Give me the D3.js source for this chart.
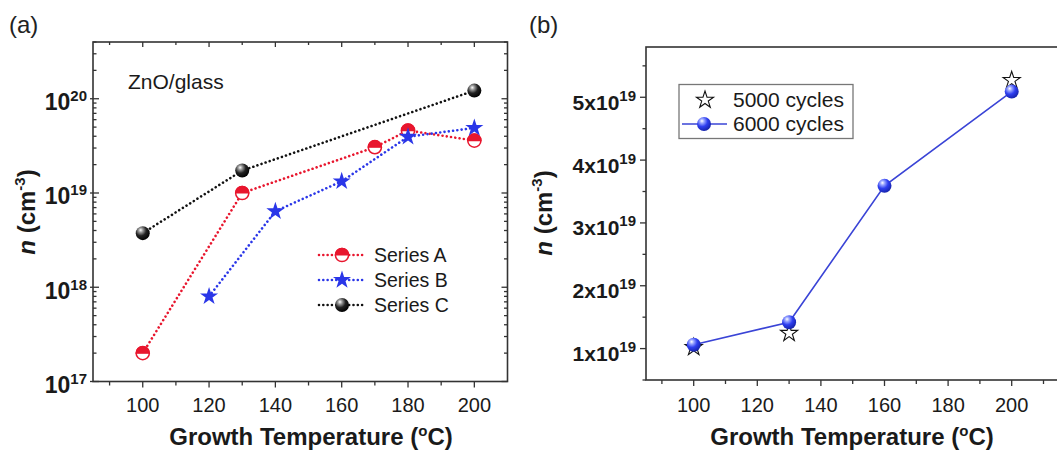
<!DOCTYPE html>
<html><head><meta charset="utf-8">
<script src="https://cdn.jsdelivr.net/npm/d3@7"></script>
<style>
body{margin:0;background:#fff}
svg{display:block;font-family:"Liberation Sans",Arial,sans-serif}
</style></head><body>
<svg id="chart" width="1057" height="452"></svg>
<script>
// ---- data ----
const seriesATemps  = [100, 130, 170, 180, 200];
const seriesAValues = [2.0e17, 1.0e19, 3.06e19, 4.6e19, 3.6e19];
const seriesBTemps  = [120, 140, 160, 180, 200];
const seriesBValues = [8.0e17, 6.4e18, 1.33e19, 3.95e19, 4.9e19];
const seriesCTemps  = [100, 130, 200];
const seriesCValues = [3.75e18, 1.73e19, 1.22e20];
const seriesNames   = ["Series A", "Series B", "Series C"];

const cycles5000Temps  = [100, 130, 200];
const cycles5000Values = [1.02e19, 1.245e19, 5.27e19];
const cycles6000Temps  = [100, 130, 160, 200];
const cycles6000Values = [1.06e19, 1.42e19, 3.59e19, 5.09e19];
const cycleNames = ["5000 cycles", "6000 cycles"];

const xTickValues = [100, 120, 140, 160, 180, 200];
const xMinorValues = [90, 110, 130, 150, 170, 190, 210];
const yExpTicksA = [17, 18, 19, 20];
const yMantTicksB = [1, 2, 3, 4, 5];
const yMinorB = [0.5, 1.5, 2.5, 3.5, 4.5, 5.5];

const RED = "#e8162e", BLUE = "#2a36e8", LBLUE = "#3a44d6";
const zip = (xs, ys) => xs.map((x, i) => ({x, y: ys[i]}));

const svg = d3.select("#chart");
const defs = svg.append("defs");
function sphereGrad(id, stops) {
  const g = defs.append("radialGradient").attr("id", id)
    .attr("cx", "38%").attr("cy", "32%").attr("r", "70%")
    .attr("fx", "35%").attr("fy", "28%");
  stops.forEach(([o, c]) => g.append("stop").attr("offset", o).attr("stop-color", c));
}
sphereGrad("gBlack", [[0, "#ffffff"], [0.22, "#9a9a9a"], [0.55, "#222"], [1, "#000"]]);
sphereGrad("gBlue", [[0, "#ffffff"], [0.22, "#9aa6ff"], [0.55, "#2f3ff0"], [1, "#1522a8"]]);

const starPath = R => d3.symbol(d3.symbolStar).size(R * R / 0.8908130915292852)();

// tick helper: draws ticks along an axis using a scale
function ticks(g, scale, values, orient, pos, inLen, outLen) {
  values.forEach(v => {
    const p = scale(v);
    const l = g.append("line").attr("stroke", "#333").attr("stroke-width", 1.3);
    if (orient === "left")   l.attr("x1", pos - outLen).attr("x2", pos + inLen).attr("y1", p).attr("y2", p);
    if (orient === "right")  l.attr("x1", pos + outLen).attr("x2", pos - inLen).attr("y1", p).attr("y2", p);
    if (orient === "bottom") l.attr("y1", pos + outLen).attr("y2", pos - inLen).attr("x1", p).attr("x2", p);
    if (orient === "top")    l.attr("y1", pos - outLen).attr("y2", pos + inLen).attr("x1", p).attr("x2", p);
  });
}

function xTitle(g, cx, y) {
  const t = g.append("text").attr("x", cx).attr("y", y).attr("text-anchor", "middle")
    .attr("font-size", 24).attr("font-weight", "bold").attr("fill", "#1a1a1a");
  t.append("tspan").text("Growth Temperature (");
  t.append("tspan").attr("font-size", 15).attr("dy", -9).text("o");
  t.append("tspan").attr("dy", 9).text("C)");
}
function yTitle(g, x, cy) {
  const t = g.append("text").attr("transform", `translate(${x},${cy}) rotate(-90)`)
    .attr("text-anchor", "middle").attr("font-size", 24).attr("font-weight", "bold").attr("fill", "#1a1a1a");
  t.append("tspan").attr("font-style", "italic").text("n");
  t.append("tspan").text(" (cm");
  t.append("tspan").attr("font-size", 15).attr("dy", -10).text("-3");
  t.append("tspan").attr("dy", 10).text(")");
}

// ================= panel (a) =================
const A = svg.append("g");
const xa = d3.scaleLinear().domain([85, 210]).range([93, 507.5]);
const ya = d3.scaleLog().domain([1e17, 4e20]).range([381.5, 42]);
const [aL, aR] = xa.range(), [aB, aT] = ya.range();

A.append("text").attr("x", 9).attr("y", 33).attr("font-size", 24).attr("fill", "#222").text("(a)");

const minorLog = [];
yExpTicksA.forEach(e => { for (let k = 2; k <= 9; k++) { const v = k * Math.pow(10, e); if (v <= 4e20) minorLog.push(v); } });
const majorLog = yExpTicksA.map(e => Math.pow(10, e));

ticks(A, ya, majorLog, "left", aL, 6, 3);
ticks(A, ya, minorLog, "left", aL, 3.5, 0);
ticks(A, ya, majorLog, "right", aR, 6, 0);
ticks(A, ya, minorLog, "right", aR, 3.5, 0);
ticks(A, xa, xTickValues, "bottom", aB, 0, 6);
ticks(A, xa, xMinorValues.filter(v => v < 210), "bottom", aB, 0, 4);
ticks(A, xa, xTickValues, "top", aT, 5, 0);
ticks(A, xa, xMinorValues.filter(v => v < 210), "top", aT, 3, 0);

A.append("rect").attr("x", aL).attr("y", aT).attr("width", aR - aL).attr("height", aB - aT)
  .attr("fill", "none").attr("stroke", "#333").attr("stroke-width", 1.6);

// y labels 10^n
yExpTicksA.forEach(e => {
  const t = A.append("text").attr("x", 87).attr("y", ya(Math.pow(10, e)) + 11.5).attr("text-anchor", "end")
    .attr("font-weight", "bold").attr("font-size", 23).attr("fill", "#1a1a1a");
  t.append("tspan").text("10");
  t.append("tspan").attr("font-size", 15).attr("dy", -9).text(e);
});
xTickValues.forEach(v => {
  A.append("text").attr("x", xa(v)).attr("y", 412).attr("text-anchor", "middle")
    .attr("font-size", 20).attr("fill", "#1a1a1a").text(v);
});
xTitle(A, 311, 445);
yTitle(A, 35, 212);

A.append("text").attr("x", 128).attr("y", 89).attr("font-size", 21).attr("fill", "#1a1a1a").text("ZnO/glass");

const lineA = d3.line().x(d => xa(d.x)).y(d => ya(d.y));
const dotted = (g, data, color) => g.append("path").datum(data).attr("d", lineA)
  .attr("fill", "none").attr("stroke", color).attr("stroke-width", 2.6)
  .attr("stroke-linecap", "round").attr("stroke-dasharray", "0.01 4.3");

const dA = zip(seriesATemps, seriesAValues), dB = zip(seriesBTemps, seriesBValues), dC = zip(seriesCTemps, seriesCValues);
dotted(A, dC, "#111");
dotted(A, dA, RED);
dotted(A, dB, BLUE);

function halfCircle(g, x, y) {
  const m = g.append("g").attr("transform", `translate(${x},${y})`);
  m.append("circle").attr("r", 6.6).attr("fill", "#fff").attr("stroke", RED).attr("stroke-width", 1.5);
  m.append("path").attr("d", "M-6.6,0A6.6,6.6 0 0 1 6.6,0Z").attr("fill", RED).attr("stroke", RED).attr("stroke-width", 1.2);
}
function blueStar(g, x, y) {
  g.append("path").attr("transform", `translate(${x},${y})`).attr("d", starPath(9.5)).attr("fill", BLUE);
}
function sphere(g, x, y, grad, r) {
  g.append("circle").attr("cx", x).attr("cy", y).attr("r", r).attr("fill", `url(#${grad})`);
}
dA.forEach(d => halfCircle(A, xa(d.x), ya(d.y)));
dB.forEach(d => blueStar(A, xa(d.x), ya(d.y)));
dC.forEach(d => sphere(A, xa(d.x), ya(d.y), "gBlack", 7));

// legend (a)
const legRowsA = [255, 280, 305];
const legColors = [RED, BLUE, "#111"];
seriesNames.forEach((name, i) => {
  const y = legRowsA[i];
  A.append("line").attr("x1", 319).attr("x2", 363).attr("y1", y).attr("y2", y)
    .attr("stroke", legColors[i]).attr("stroke-width", 2.6).attr("stroke-linecap", "round").attr("stroke-dasharray", "0.01 4.3");
  if (i === 0) halfCircle(A, 342, y);
  if (i === 1) blueStar(A, 342, y);
  if (i === 2) sphere(A, 342, y, "gBlack", 7);
  A.append("text").attr("x", 374).attr("y", y + 7).attr("font-size", 19.5).attr("fill", "#1a1a1a").text(name);
});

// ================= panel (b) =================
const B = svg.append("g");
const xb = d3.scaleLinear().domain([85, 215]).range([646, 1059.4]);
const yb = d3.scaleLinear().domain([0.5e19, 5.8e19]).range([380, 47]);
const [bL, bR] = xb.range(), [bB, bT] = yb.range();

B.append("text").attr("x", 529).attr("y", 33).attr("font-size", 24).attr("fill", "#222").text("(b)");

ticks(B, yb, yMantTicksB.map(m => m * 1e19), "left", bL, 0, 6);
ticks(B, yb, yMinorB.map(m => m * 1e19), "left", bL, 0, 3.5);
ticks(B, xb, xTickValues, "bottom", bB, 0, 6);
ticks(B, xb, xMinorValues, "bottom", bB, 0, 4);
B.append("rect").attr("x", bL).attr("y", bT).attr("width", bR - bL).attr("height", bB - bT)
  .attr("fill", "none").attr("stroke", "#333").attr("stroke-width", 1.6);

yMantTicksB.forEach(m => {
  const t = B.append("text").attr("x", 636).attr("y", yb(m * 1e19) + 12.5).attr("text-anchor", "end")
    .attr("font-weight", "bold").attr("font-size", 21).attr("fill", "#1a1a1a");
  t.append("tspan").text(m + "x10");
  t.append("tspan").attr("font-size", 15).attr("dy", -9).text("19");
});
xTickValues.forEach(v => {
  B.append("text").attr("x", xb(v)).attr("y", 412).attr("text-anchor", "middle")
    .attr("font-size", 20).attr("fill", "#1a1a1a").text(v);
});
xTitle(B, 852, 445);
yTitle(B, 552, 213);

const d5 = zip(cycles5000Temps, cycles5000Values), d6 = zip(cycles6000Temps, cycles6000Values);
function openStar(g, x, y) {
  g.append("path").attr("transform", `translate(${x},${y})`).attr("d", starPath(9))
    .attr("fill", "#fff").attr("stroke", "#111").attr("stroke-width", 1.1);
}
d5.forEach(d => openStar(B, xb(d.x), yb(d.y)));
B.append("path").datum(d6).attr("d", d3.line().x(d => xb(d.x)).y(d => yb(d.y)))
  .attr("fill", "none").attr("stroke", LBLUE).attr("stroke-width", 1.6);
d6.forEach(d => sphere(B, xb(d.x), yb(d.y), "gBlue", 7));

// legend (b)
B.append("rect").attr("x", 679).attr("y", 84.5).attr("width", 174).attr("height", 54)
  .attr("fill", "#fff").attr("stroke", "#777").attr("stroke-width", 1.3);
openStar(B, 705, 100);
B.append("line").attr("x1", 682).attr("x2", 727).attr("y1", 124).attr("y2", 124)
  .attr("stroke", LBLUE).attr("stroke-width", 1.6);
sphere(B, 704, 124, "gBlue", 7);
cycleNames.forEach((name, i) => {
  B.append("text").attr("x", 733).attr("y", [107, 131][i]).attr("font-size", 21)
    .attr("fill", "#1a1a1a").text(name);
});
</script>
</body></html>
